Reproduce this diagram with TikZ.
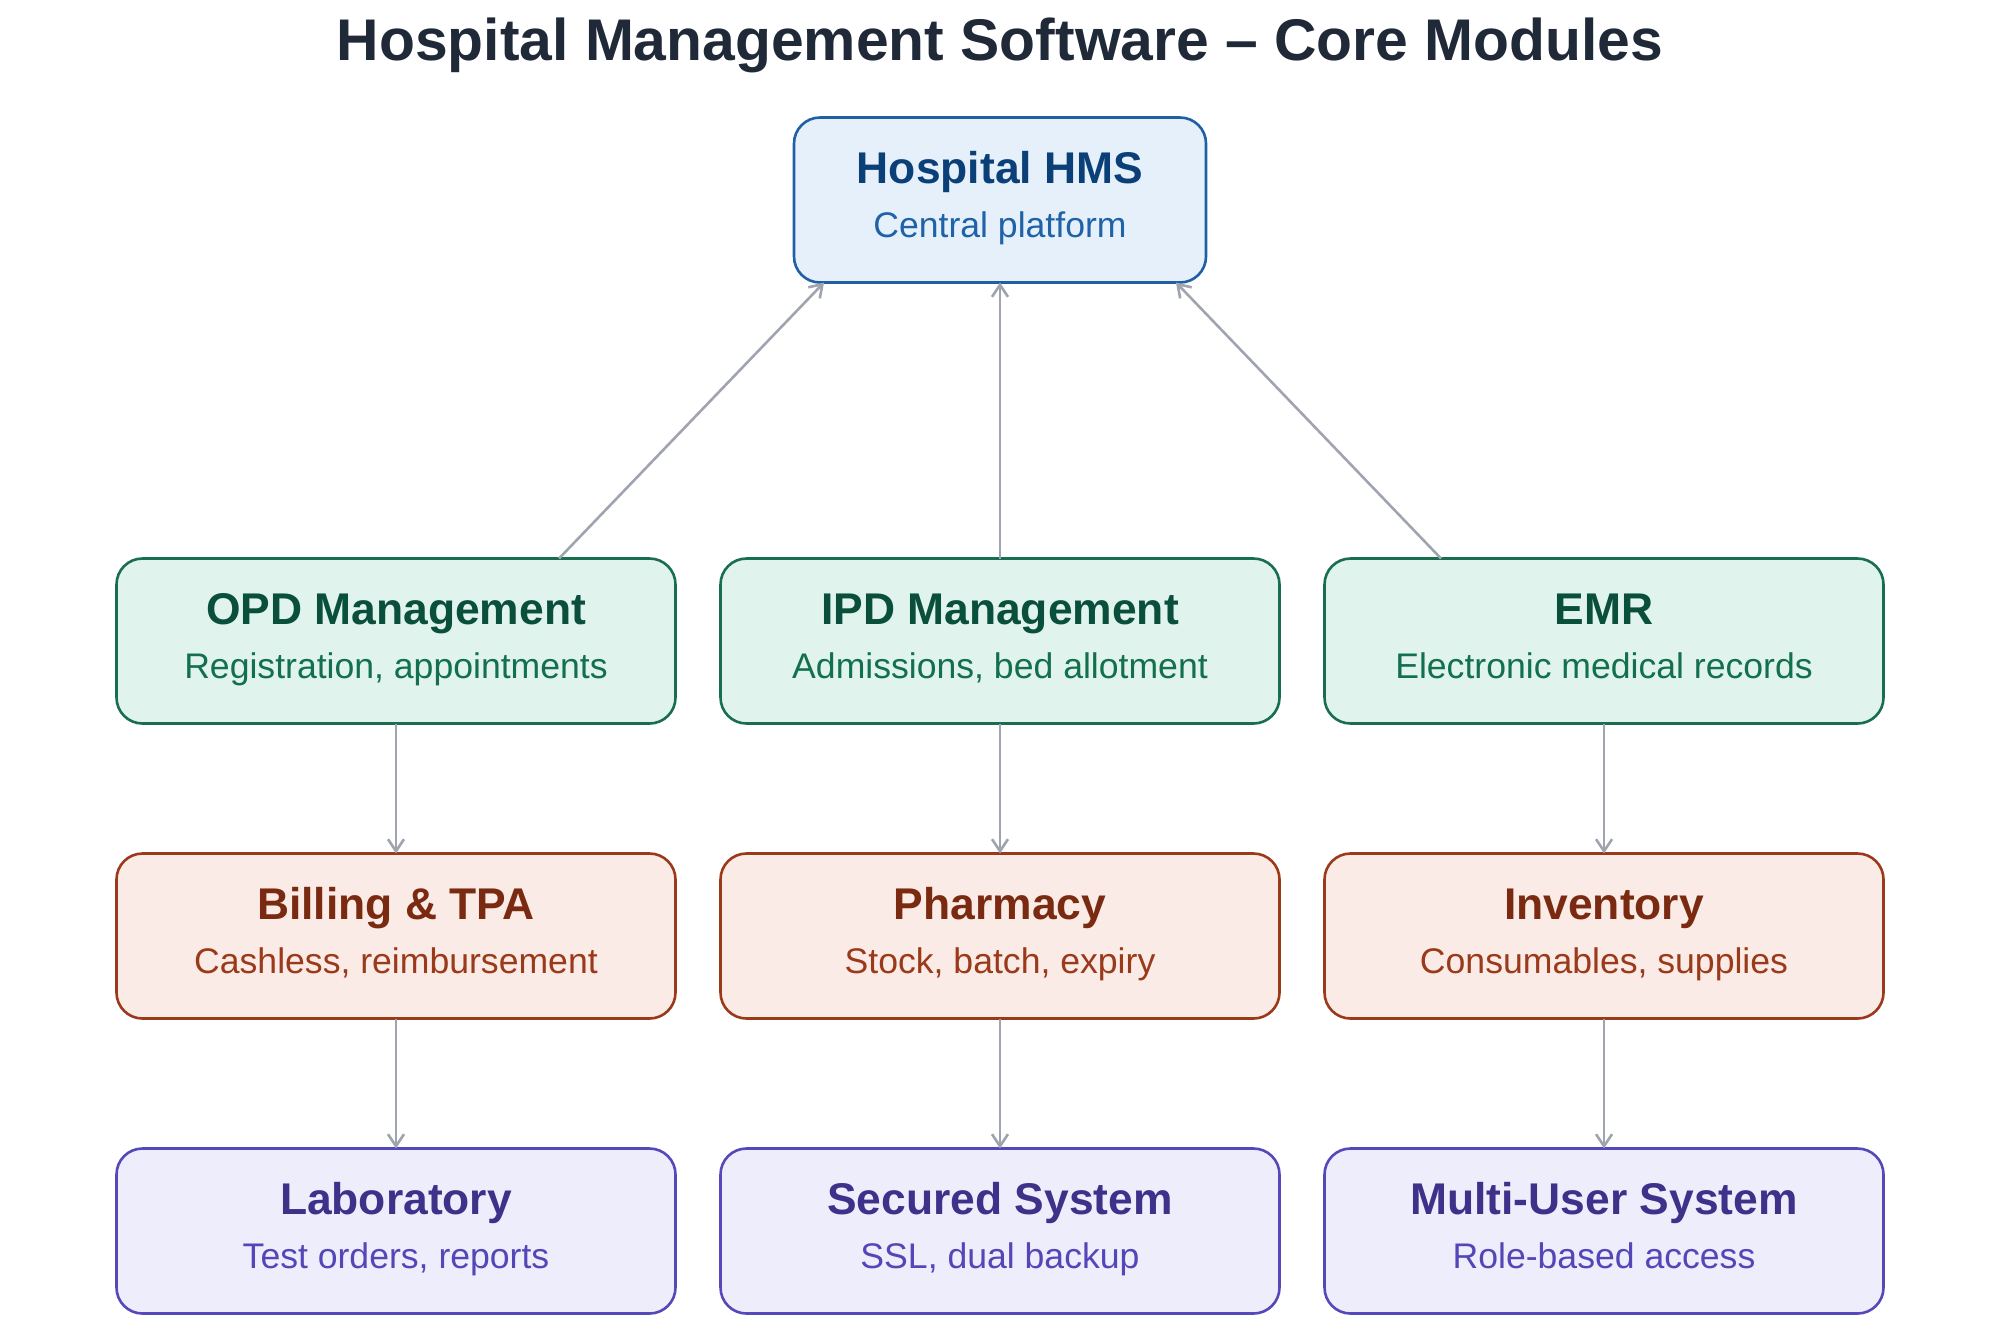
\documentclass[tikz,border=0pt]{standalone}
\usepackage{fontspec}
\setmainfont{Liberation Sans}
\usetikzlibrary{arrows.meta, positioning}
\usepackage{xcolor}
\definecolor{titletext}{HTML}{1F2937}
\definecolor{hubfill}{HTML}{E6F0FA}
\definecolor{hubline}{HTML}{1F5FA6}
\definecolor{hubhead}{HTML}{0B3F78}
\definecolor{hubsub}{HTML}{1F62A8}
\definecolor{clinfill}{HTML}{E0F3EC}
\definecolor{clinline}{HTML}{1A6E50}
\definecolor{clinhead}{HTML}{0A4F3C}
\definecolor{clinsub}{HTML}{13704F}
\definecolor{opsfill}{HTML}{FAEBE6}
\definecolor{opsline}{HTML}{9A3A1A}
\definecolor{opshead}{HTML}{7A2A10}
\definecolor{opssub}{HTML}{9A3A1A}
\definecolor{sysfill}{HTML}{EEEDFC}
\definecolor{sysline}{HTML}{5548B8}
\definecolor{syshead}{HTML}{3D3189}
\definecolor{syssub}{HTML}{5546B8}
\definecolor{linkgray}{HTML}{A0A4AE}
\newcommand{\modtext}[2]{{\fontsize{22.2}{26.8}\selectfont\bfseries\strut #1}\\{\strut #2}}
\tikzstyle{module} = [rectangle, rounded corners=13pt, minimum width=279.5pt,
                      minimum height=82.5pt, align=center, line width=1.3pt,
                      outer sep=0pt, font=\fontsize{17.8}{26.8}\selectfont]
\tikzstyle{hub}    = [module, minimum width=206pt, draw=hubline, fill=hubfill, text=hubsub]
\tikzstyle{clinic} = [module, draw=clinline, fill=clinfill, text=clinsub]
\tikzstyle{ops}    = [module, draw=opsline, fill=opsfill, text=opssub]
\tikzstyle{sys}    = [module, draw=sysline, fill=sysfill, text=syssub]
\tikzstyle{link}   = [-{Straight Barb[length=6pt, width=8pt]}, line width=1.3pt, draw=linkgray]

\begin{document}
\begin{tikzpicture}[x=0.5pt, y=-0.5pt, node distance=65pt and 22.5pt]
  \useasboundingbox (0,0) rectangle (2000,1330);

  \node (title) at (1000,45) [font=\fontsize{29.4}{34}\selectfont\bfseries, text=titletext]
        {Hospital Management Software -- Core Modules};

  \node (hms) at (1000,200) [hub] {\modtext{\color{hubhead}Hospital HMS}{Central platform}};

  \node (ipd) at (1000,641) [clinic] {\modtext{\color{clinhead}IPD Management}{Admissions, bed allotment}};
  \node (opd) [clinic, left=of ipd]  {\modtext{\color{clinhead}OPD Management}{Registration, appointments}};
  \node (emr) [clinic, right=of ipd] {\modtext{\color{clinhead}EMR}{Electronic medical records}};

  \node (billing) [ops, below=of opd]  {\modtext{\color{opshead}Billing \& TPA}{Cashless, reimbursement}};
  \node (pharmacy) [ops, below=of ipd] {\modtext{\color{opshead}Pharmacy}{Stock, batch, expiry}};
  \node (inventory) [ops, below=of emr] {\modtext{\color{opshead}Inventory}{Consumables, supplies}};

  \node (lab) [sys, below=of billing]      {\modtext{\color{syshead}Laboratory}{Test orders, reports}};
  \node (secured) [sys, below=of pharmacy] {\modtext{\color{syshead}Secured System}{SSL, dual backup}};
  \node (multiuser) [sys, below=of inventory] {\modtext{\color{syshead}Multi-User System}{Role-based access}};

  % up to the core
  \draw [link] ([xshift=81.5pt]opd.north) -- ([xshift=-88pt]hms.south);
  \draw [link] (ipd.north) -- (hms.south);
  \draw [link] ([xshift=-81.5pt]emr.north) -- ([xshift=88pt]hms.south);

  % down the columns
  \draw [link] (opd) -- (billing);
  \draw [link] (ipd) -- (pharmacy);
  \draw [link] (emr) -- (inventory);
  \draw [link] (billing) -- (lab);
  \draw [link] (pharmacy) -- (secured);
  \draw [link] (inventory) -- (multiuser);
\end{tikzpicture}
\end{document}
